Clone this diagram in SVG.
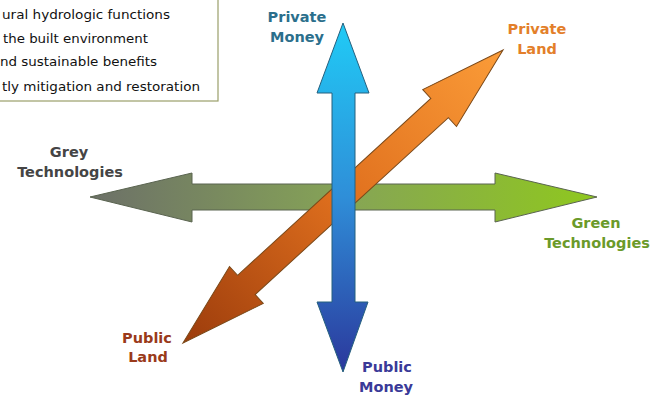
<svg xmlns="http://www.w3.org/2000/svg" width="657" height="402" viewBox="0 0 657 402">
<style>
.lbl{font-family:"DejaVu Sans","Verdana",sans-serif;font-weight:bold;font-size:14.5px;text-anchor:middle}
.leg{font-family:"DejaVu Sans","Verdana",sans-serif;font-size:13px;fill:#111}
</style>
<defs>
<linearGradient id="gH" gradientUnits="userSpaceOnUse" x1="90" y1="0" x2="597" y2="0">
<stop offset="0" stop-color="#6c7068"/><stop offset="0.5" stop-color="#86a456"/><stop offset="1" stop-color="#8fc81e"/>
</linearGradient>
<linearGradient id="gV" gradientUnits="userSpaceOnUse" x1="0" y1="23" x2="0" y2="372">
<stop offset="0" stop-color="#20cbf6"/><stop offset="0.5" stop-color="#2f8ed8"/><stop offset="1" stop-color="#2b389c"/>
</linearGradient>
<linearGradient id="gD" gradientUnits="userSpaceOnUse" x1="-217" y1="0" x2="217" y2="0">
<stop offset="0" stop-color="#9c3c0c"/><stop offset="0.5" stop-color="#e0701e"/><stop offset="1" stop-color="#fb9c38"/>
</linearGradient>
</defs>
<rect width="657" height="402" fill="#ffffff"/>
<g id="legend">
<rect x="-5" y="-5" width="223" height="106" fill="#ffffff" stroke="#9a9f6a" stroke-width="1.2"/>
<text class="leg" x="2" y="19" textLength="168" lengthAdjust="spacingAndGlyphs">ural hydrologic functions</text>
<text class="leg" x="3" y="43" textLength="145" lengthAdjust="spacingAndGlyphs">the built environment</text>
<text class="leg" x="0" y="66" textLength="157" lengthAdjust="spacingAndGlyphs">nd sustainable benefits</text>
<text class="leg" x="2" y="91" textLength="198" lengthAdjust="spacingAndGlyphs">tly mitigation and restoration</text>
</g>
<g id="connectors">
<path id="tech-axis" d="M90,197 L192,173 L192,184 L495,184 L495,173 L597,197 L495,222 L495,210 L192,210 L192,222 Z" fill="url(#gH)" stroke="#5a6450" stroke-width="1"/>
<g transform="translate(343,196.5) rotate(-42.48)">
<path id="land-axis" d="M-217,0 L-131,-25 L-131,-13 L131,-13 L131,-25 L217,0 L131,25 L131,13 L-131,13 L-131,25 Z" fill="url(#gD)" stroke="#7a4818" stroke-width="1"/>
</g>
<path id="money-axis" d="M343,23 L369,93 L355,93 L355,302 L368,302 L343,372 L317,302 L332,302 L332,93 L317,93 Z" fill="url(#gV)" stroke="#25607e" stroke-width="1"/>
</g>
<g id="private-money"><text class="lbl" fill="#2b6f8c" x="297" y="22">Private</text><text class="lbl" fill="#2b6f8c" x="297" y="42">Money</text></g>
<g id="private-land"><text class="lbl" fill="#e37f2a" x="537" y="34">Private</text><text class="lbl" fill="#e37f2a" x="537" y="54">Land</text></g>
<g id="grey-tech"><text class="lbl" fill="#454545" x="69" y="157">Grey</text><text class="lbl" fill="#454545" x="70" y="177">Technologies</text></g>
<g id="green-tech"><text class="lbl" fill="#6b9a2a" x="596" y="228">Green</text><text class="lbl" fill="#6b9a2a" x="597" y="248">Technologies</text></g>
<g id="public-land"><text class="lbl" fill="#9a3a1a" x="147" y="343">Public</text><text class="lbl" fill="#9a3a1a" x="148" y="362">Land</text></g>
<g id="public-money"><text class="lbl" fill="#3a3a98" x="387" y="372">Public</text><text class="lbl" fill="#3a3a98" x="386" y="392">Money</text></g>
</svg>
